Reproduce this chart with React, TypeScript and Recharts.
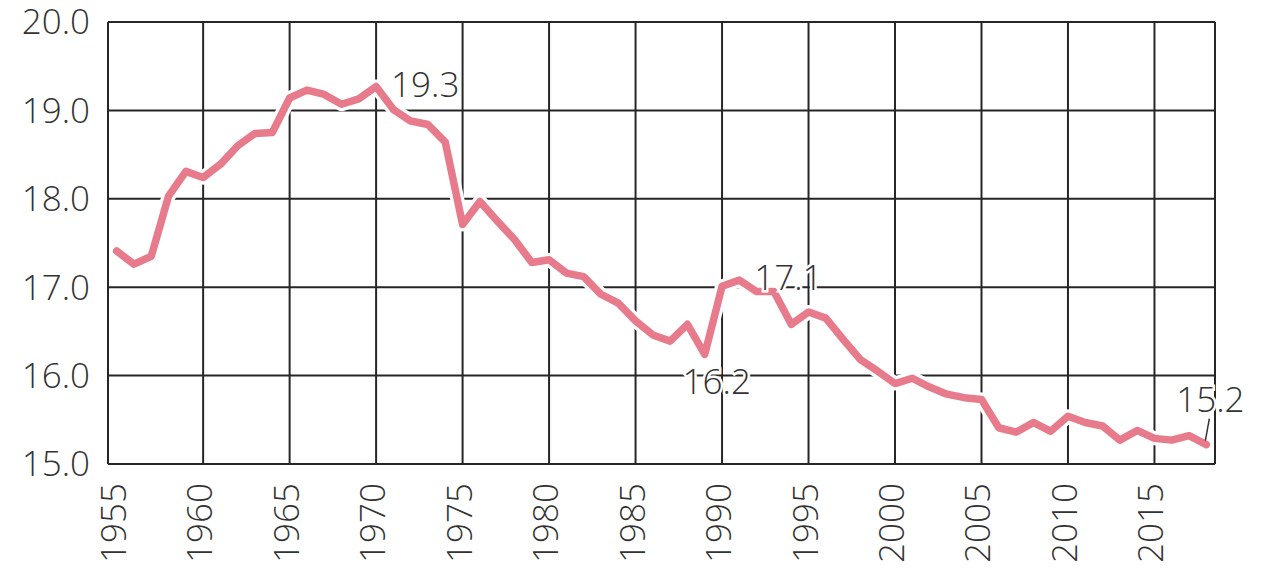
import { CartesianGrid, LabelList, Line, LineChart, ReferenceLine, XAxis, YAxis } from "recharts"

const years = [
  1955, 1956, 1957, 1958, 1959, 1960, 1961, 1962, 1963, 1964,
  1965, 1966, 1967, 1968, 1969, 1970, 1971, 1972, 1973, 1974,
  1975, 1976, 1977, 1978, 1979, 1980, 1981, 1982, 1983, 1984,
  1985, 1986, 1987, 1988, 1989, 1990, 1991, 1992, 1993, 1994,
  1995, 1996, 1997, 1998, 1999, 2000, 2001, 2002, 2003, 2004,
  2005, 2006, 2007, 2008, 2009, 2010, 2011, 2012, 2013, 2014,
  2015, 2016, 2017, 2018,
]

const rates = [
  17.41, 17.26, 17.35, 18.03, 18.31, 18.24, 18.39, 18.6, 18.74, 18.75,
  19.14, 19.23, 19.18, 19.07, 19.13, 19.27, 19.01, 18.88, 18.84, 18.64,
  17.71, 17.97, 17.75, 17.54, 17.28, 17.31, 17.16, 17.12, 16.92, 16.82,
  16.62, 16.46, 16.39, 16.58, 16.24, 17.01, 17.08, 16.95, 16.95, 16.58,
  16.72, 16.65, 16.41, 16.18, 16.05, 15.91, 15.97, 15.87, 15.79, 15.75,
  15.73, 15.41, 15.36, 15.47, 15.37, 15.54, 15.47, 15.43, 15.27, 15.38,
  15.29, 15.27, 15.32, 15.22,
]

const xTicks = [1955, 1960, 1965, 1970, 1975, 1980, 1985, 1990, 1995, 2000, 2005, 2010, 2015]
const gridYears = [1960, 1965, 1970, 1975, 1980, 1985, 1990, 1995, 2000, 2005, 2010, 2015]
const yTicks = [15, 16, 17, 18, 19, 20]

// years that get a value label: 1970 peak, 1989 low, 1991 peak, last year
const labelled = [1970, 1989, 1991, 2018]

const xDomain = [1954.5, 2018.5]
const data = years.map((year, i) => ({ year, rate: rates[i] }))

const FONT = '"Open Sans", "Noto Sans", sans-serif'
const TEXT = "#333"
const PINK = "#e77b8c"
const GRID = "#262626"

function YearTick(props: any) {
  const { x, y, payload } = props
  return (
    <text
      x={x}
      y={y}
      transform={`rotate(-90 ${x} ${y})`}
      textAnchor="end"
      dy={9}
      fontSize={35}
      fontFamily={FONT}
      fontWeight={300}
      fill={TEXT}
    >
      {payload.value}
    </text>
  )
}

function ValueLabel(props: any) {
  const { x, y, value, index } = props
  const year = years[index]
  if (!labelled.includes(year)) return null
  const text = Number(value).toFixed(1)
  const common = {
    fontSize: 35,
    fontFamily: FONT,
    fontWeight: 300,
    fill: TEXT,
    stroke: "#fff",
    strokeWidth: 5,
    paintOrder: "stroke",
  } as any
  if (year === 1989) {
    return <text x={x + 12} y={y + 40} textAnchor="middle" {...common}>{text}</text>
  }
  if (year === 2018) {
    return (
      <g>
        <text x={x + 4} y={y - 33} textAnchor="middle" {...common}>{text}</text>
        <line x1={x + 3} y1={y - 26} x2={x - 1} y2={y - 4} stroke={TEXT} strokeWidth={1.5} />
      </g>
    )
  }
  return <text x={x + 15} y={y + 10} textAnchor="start" {...common}>{text}</text>
}

export default function App() {
  return (
    <div style={{ position: "absolute", left: 0, top: 0, background: "#fff" }}>
      <LineChart width={1268} height={570} data={data} margin={{ top: 22, right: 53, left: 0, bottom: 0 }}>
        <CartesianGrid vertical={false} stroke={GRID} strokeWidth={2} />
        {gridYears.map((yr) => (
          <ReferenceLine key={yr} x={yr} stroke={GRID} strokeWidth={2} />
        ))}
        <ReferenceLine x={xDomain[0]} stroke={GRID} strokeWidth={2} />
        <ReferenceLine x={xDomain[1]} stroke={GRID} strokeWidth={2} />
        <XAxis
          dataKey="year"
          type="number"
          domain={xDomain}
          ticks={xTicks}
          height={106}
          axisLine={false}
          tickLine={false}
          tickSize={0}
          tickMargin={19}
          interval={0}
          tick={<YearTick />}
        />
        <YAxis
          domain={[15, 20]}
          ticks={yTicks}
          width={108}
          axisLine={false}
          tickLine={false}
          tickSize={0}
          tickMargin={18}
          interval={0}
          tickFormatter={(v) => Number(v).toFixed(1)}
          tick={{ fontSize: 35, fill: TEXT, fontFamily: FONT, fontWeight: 300 }}
        />
        <Line
          dataKey="rate"
          stroke="#fff"
          strokeWidth={14}
          dot={false}
          activeDot={false}
          strokeLinejoin="round"
          strokeLinecap="round"
          isAnimationActive={false}
        >
          <LabelList dataKey="rate" content={<ValueLabel />} />
        </Line>
        <Line
          dataKey="rate"
          stroke={PINK}
          strokeWidth={7.5}
          dot={false}
          activeDot={false}
          strokeLinejoin="round"
          strokeLinecap="round"
          isAnimationActive={false}
        />
      </LineChart>
    </div>
  )
}
